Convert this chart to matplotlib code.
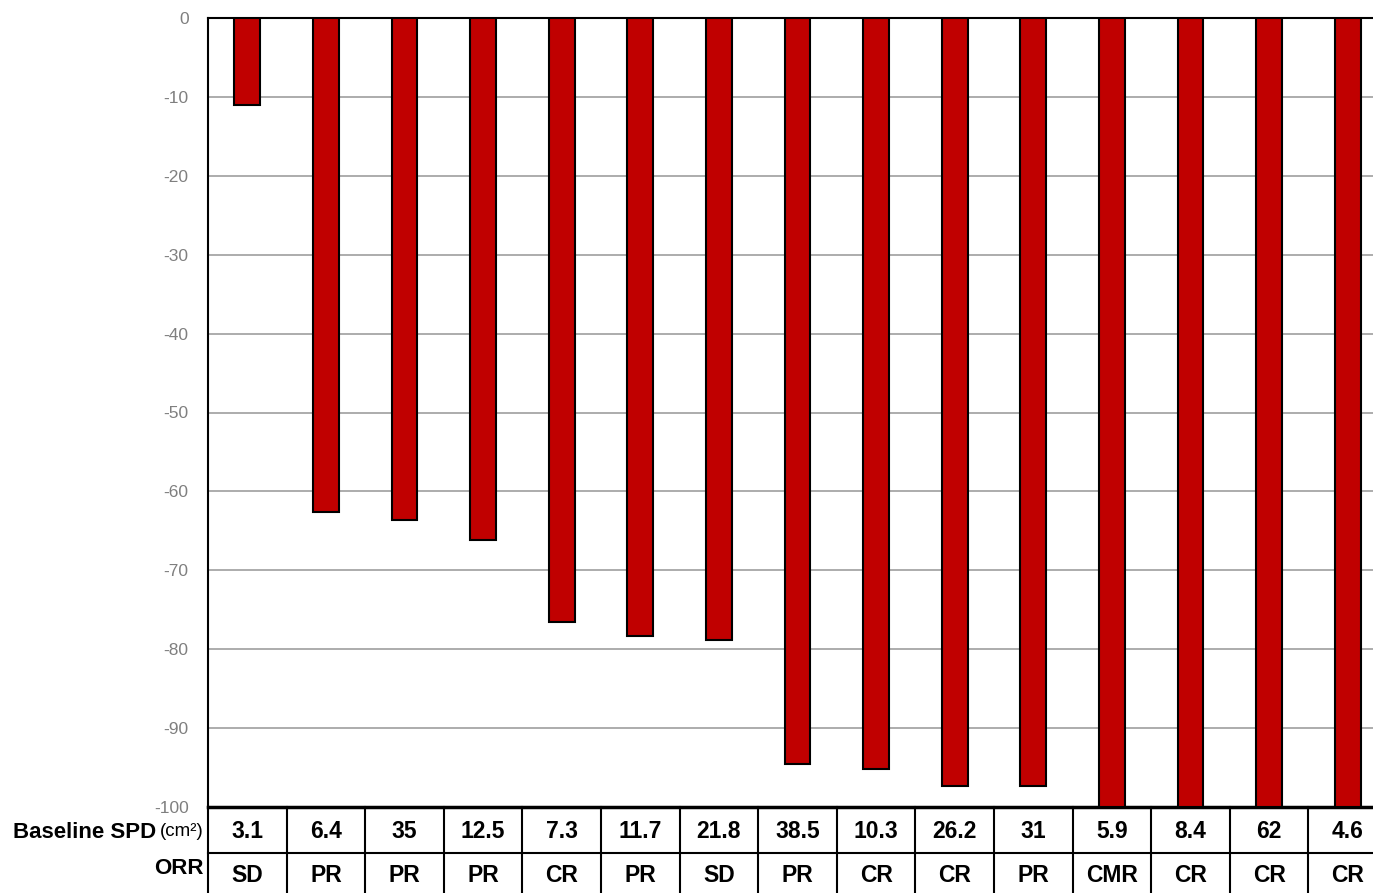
import matplotlib
matplotlib.use("Agg")
import matplotlib.pyplot as plt

plt.rcParams['font.family'] = ['Liberation Sans', 'DejaVu Sans']

# Best percent change in SPD per patient
change_pct = [-11.0, -62.6, -63.6, -66.2, -76.6, -78.3, -78.8,
              -94.6, -95.2, -97.3, -97.3, -100, -100, -100, -100]
baseline_spd = ["3.1", "6.4", "35", "12.5", "7.3", "11.7", "21.8",
                "38.5", "10.3", "26.2", "31", "5.9", "8.4", "62", "4.6"]
orr = ["SD", "PR", "PR", "PR", "CR", "PR", "SD",
       "PR", "CR", "CR", "PR", "CMR", "CR", "CR", "CR"]
y_ticks = list(range(0, -101, -10))

W, H = 1373, 893
fig = plt.figure(figsize=(W / 100, H / 100), dpi=100)

left_px, top_px, bot_px = 208, 18, 807
n = len(change_pct)
cat_px = 78.6
ax_w_px = cat_px * n
ax = fig.add_axes([left_px / W, (H - bot_px) / H, ax_w_px / W, (bot_px - top_px) / H])

x = list(range(n))
ax.bar(x, change_pct, width=0.33, color='#C00000', edgecolor='black',
       linewidth=1.5, zorder=3)

ax.set_xlim(-0.5, n - 0.5)
ax.set_ylim(-100, 0)
ax.set_yticks(y_ticks)
ax.set_yticklabels([str(v) for v in y_ticks])
ax.tick_params(axis='y', length=0, pad=14, labelsize=12.5, labelcolor='#7f7f7f')
ax.tick_params(axis='x', length=0, labelbottom=False)
ax.grid(axis='y', color='#a6a6a6', linewidth=1.3, zorder=0)
for s in ['left', 'top']:
    ax.spines[s].set_color('black')
    ax.spines[s].set_linewidth(1.5)
ax.spines['bottom'].set_color('black')
ax.spines['bottom'].set_linewidth(2.5)
ax.spines['right'].set_visible(False)

# Table of baseline SPD and response below the bars
tab = fig.add_axes([left_px / W, 0, ax_w_px / W, (H - bot_px) / H])
tab.set_xlim(-0.5, n - 0.5)
tab.set_ylim(0, H - bot_px)
tab.axis('off')
row_sep = H - 853
for i in range(n):
    tab.plot([i - 0.5, i - 0.5], [0, H - bot_px], color='black', lw=1.5,
             clip_on=False)
tab.plot([-0.5, n - 0.5], [row_sep, row_sep], color='black', lw=1.5,
         clip_on=False)
for i in range(n):
    tab.text(i, H - 832, baseline_spd[i], ha='center', va='center',
             fontsize=16.5, fontweight='bold')
    tab.text(i, H - 876, orr[i], ha='center', va='center',
             fontsize=16.5, fontweight='bold')

lab_x = -0.5 - 4 / cat_px
unit = tab.text(lab_x, H - 832, "(cm\u00b2)", ha='right', va='center',
                fontsize=13.5, clip_on=False)
tab.annotate("Baseline SPD", xy=(0, 0.5), xycoords=unit,
             xytext=(-3, 0), textcoords='offset points',
             ha='right', va='center', fontsize=16, fontweight='bold',
             annotation_clip=False)
tab.text(lab_x, H - 868, "ORR", ha='right', va='center',
         fontsize=16, fontweight='bold', clip_on=False)

fig.savefig("out.png", dpi=100)
